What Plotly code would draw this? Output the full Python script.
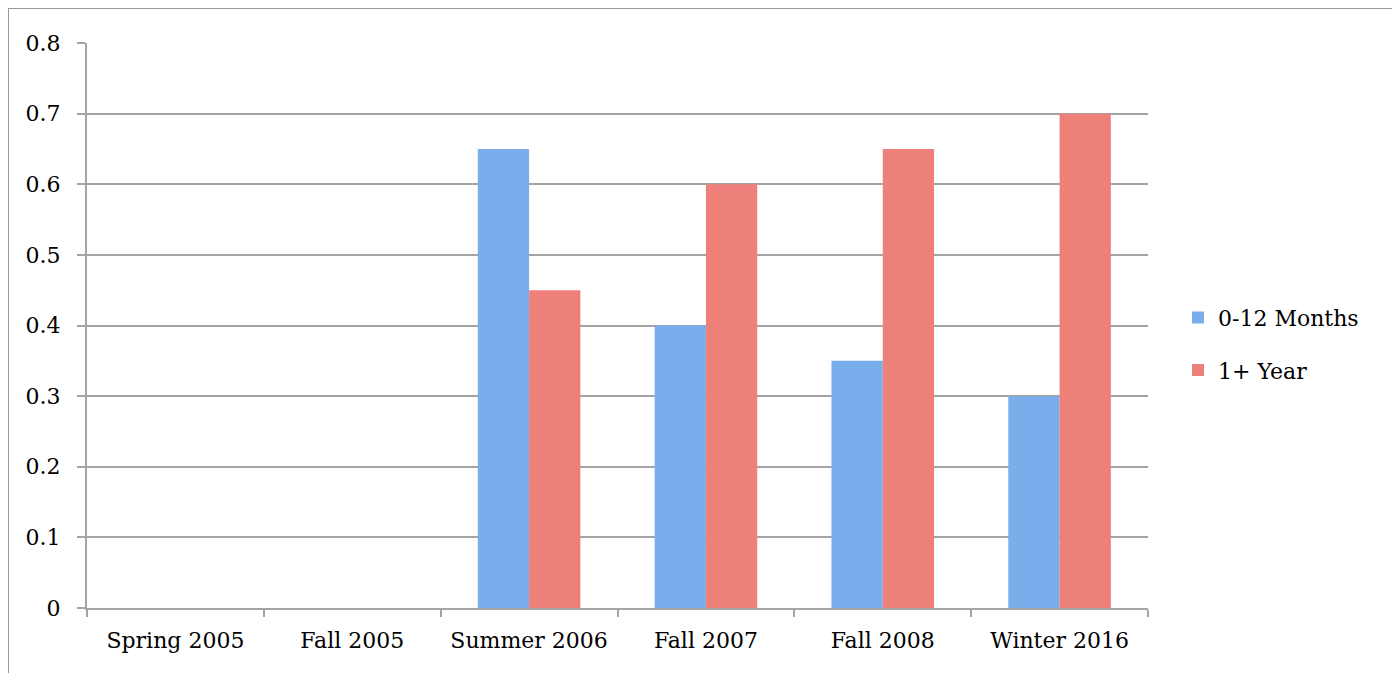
import plotly.graph_objects as go

categories = ["Spring 2005", "Fall 2005", "Summer 2006", "Fall 2007", "Fall 2008", "Winter 2016"]
months_0_12 = [None, None, 0.65, 0.40, 0.35, 0.30]
year_plus = [None, None, 0.45, 0.60, 0.65, 0.70]
series_names = ["0-12 Months", "1+ Year"]
y_ticks = [0, 0.1, 0.2, 0.3, 0.4, 0.5, 0.6, 0.7, 0.8]

FONT = "DejaVu Serif"
GRID = "#a4a4a4"

L, R, T, B = 79, 260, 35, 73
PW = 1400 - L - R
PH = 673 - T - B

fig = go.Figure()
fig.add_trace(go.Bar(
    x=categories, y=months_0_12, name=series_names[0], legendgroup="a",
    marker=dict(color="#7aadec", line=dict(width=0)),
))
fig.add_trace(go.Bar(
    x=categories, y=year_plus, name=series_names[1], legendgroup="b",
    marker=dict(color="#ee807a", line=dict(width=0)),
))

fig.update_layout(
    width=1400, height=673,
    paper_bgcolor="white", plot_bgcolor="white",
    margin=dict(l=L, r=R, t=T, b=B),
    barmode="group", bargap=0.42, bargroupgap=0,
    font=dict(family=FONT, size=22, color="black"),
    showlegend=True,
    legend=dict(
        x=(1170 - L) / PW, y=0.467, xanchor="left", yanchor="middle",
        font=dict(family=FONT, size=22),
        traceorder="grouped", tracegroupgap=21,
        bgcolor="rgba(0,0,0,0)",
    ),
    xaxis=dict(
        type="category", showgrid=False,
        showline=True, linecolor=GRID, linewidth=2,
        ticks="outside", tickson="boundaries", ticklen=7, tickcolor=GRID, tickwidth=2,
        tickfont=dict(family=FONT, size=22),
        ticklabelstandoff=12,
    ),
    yaxis=dict(
        range=[0, 0.8], tickvals=y_ticks,
        ticktext=[("%g" % v) for v in y_ticks],
        showgrid=True, gridcolor=GRID, gridwidth=2,
        showline=True, linecolor=GRID, linewidth=2,
        ticks="outside", ticklen=8, tickcolor=GRID, tickwidth=2,
        tickfont=dict(family=FONT, size=22),
        ticklabelstandoff=12,
        zeroline=False,
    ),
    shapes=[dict(
        type="rect", xref="paper", yref="paper",
        x0=(0 - L) / PW, x1=(1390 - L) / PW,
        y0=-0.4, y1=(673 - B) / PH,
        line=dict(color="#999999", width=2), fillcolor="rgba(0,0,0,0)",
        layer="below",
    )],
)

fig.write_html("out.html")
